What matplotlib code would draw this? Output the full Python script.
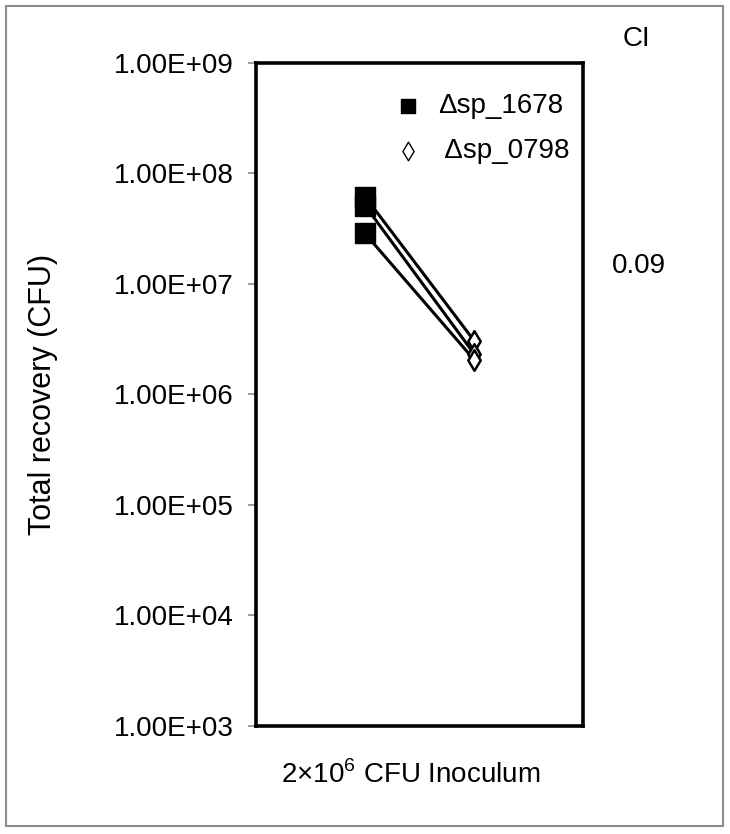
import matplotlib.pyplot as plt
from matplotlib.patches import Rectangle

plt.rcParams['font.family'] = ['Liberation Sans', 'DejaVu Sans']
plt.rcParams['mathtext.fontset'] = 'custom'
plt.rcParams['mathtext.rm'] = 'Liberation Sans'

# ── data ──────────────────────────────────────────────────────────────
strains = ["Δsp_1678", " Δsp_0798"]
x_pos = [1, 2]
sp_1678 = [6.15e7, 5.1e7, 2.85e7]
sp_0798 = [3.06e6, 2.33e6, 2.06e6]
yticks = [1e3, 1e4, 1e5, 1e6, 1e7, 1e8, 1e9]
ytick_labels = ["1.00E+03", "1.00E+04", "1.00E+05", "1.00E+06",
                "1.00E+07", "1.00E+08", "1.00E+09"]
ci_value = "0.09"

FS = 20

# ── figure ────────────────────────────────────────────────────────────
fig = plt.figure(figsize=(7.30, 8.34), dpi=100)
ax = fig.add_axes([0.3507, 0.1298, 0.4479, 0.795])

for a, b in zip(sp_1678, sp_0798):
    ax.plot(x_pos, [a, b], color="black", lw=2.2, zorder=2)

ax.scatter([x_pos[0]] * len(sp_1678), sp_1678, marker="s", s=200,
           color="black", zorder=3, label=strains[0])
ax.scatter([x_pos[1]] * len(sp_0798), sp_0798, marker="d", s=110,
           facecolor="white", edgecolor="black", linewidth=1.8, zorder=3,
           label=strains[1])

ax.set_yscale("log")
ax.set_ylim(1e3, 1e9)
ax.set_xlim(0, 3)
ax.set_yticks(yticks)
ax.set_yticklabels(ytick_labels, fontsize=FS)
ax.minorticks_off()
ax.set_xticks([])
ax.tick_params(axis="y", length=6, width=1.2, color="#8c8c8c", pad=10)

for s in ax.spines.values():
    s.set_linewidth(2.6)
    s.set_color("black")

ax.set_ylabel("Total recovery (CFU)", fontsize=22)
ax.yaxis.set_label_coords(-0.605, 0.5)
ax.set_xlabel("2×10$^{6}$ CFU Inoculum", fontsize=FS)
ax.xaxis.set_label_coords(0.474, -0.052)
ax.xaxis.label.set_va("top")

# legend
h1 = ax.scatter([], [], marker="s", s=90, color="black")
h2 = ax.scatter([], [], marker="d", s=90, facecolor="white",
                edgecolor="black", linewidth=1.0)
ax.legend([h1, h2], strains, loc="upper left", bbox_to_anchor=(0.32, 0.992),
          frameon=False, fontsize=FS, handletextpad=0.3, labelspacing=0.7,
          handlelength=1.6)

# CI annotation
fig.text(0.853, 0.953, "CI", fontsize=FS, ha="left", va="center")
fig.text(0.838, 0.681, ci_value, fontsize=FS, ha="left", va="center")

# outer border
fig.patches.append(Rectangle((0.0082, 0.0096), 0.982, 0.983,
                             transform=fig.transFigure, fill=False,
                             edgecolor="#8c8c8c", linewidth=1.5))

fig.savefig("out.png", dpi=100)
